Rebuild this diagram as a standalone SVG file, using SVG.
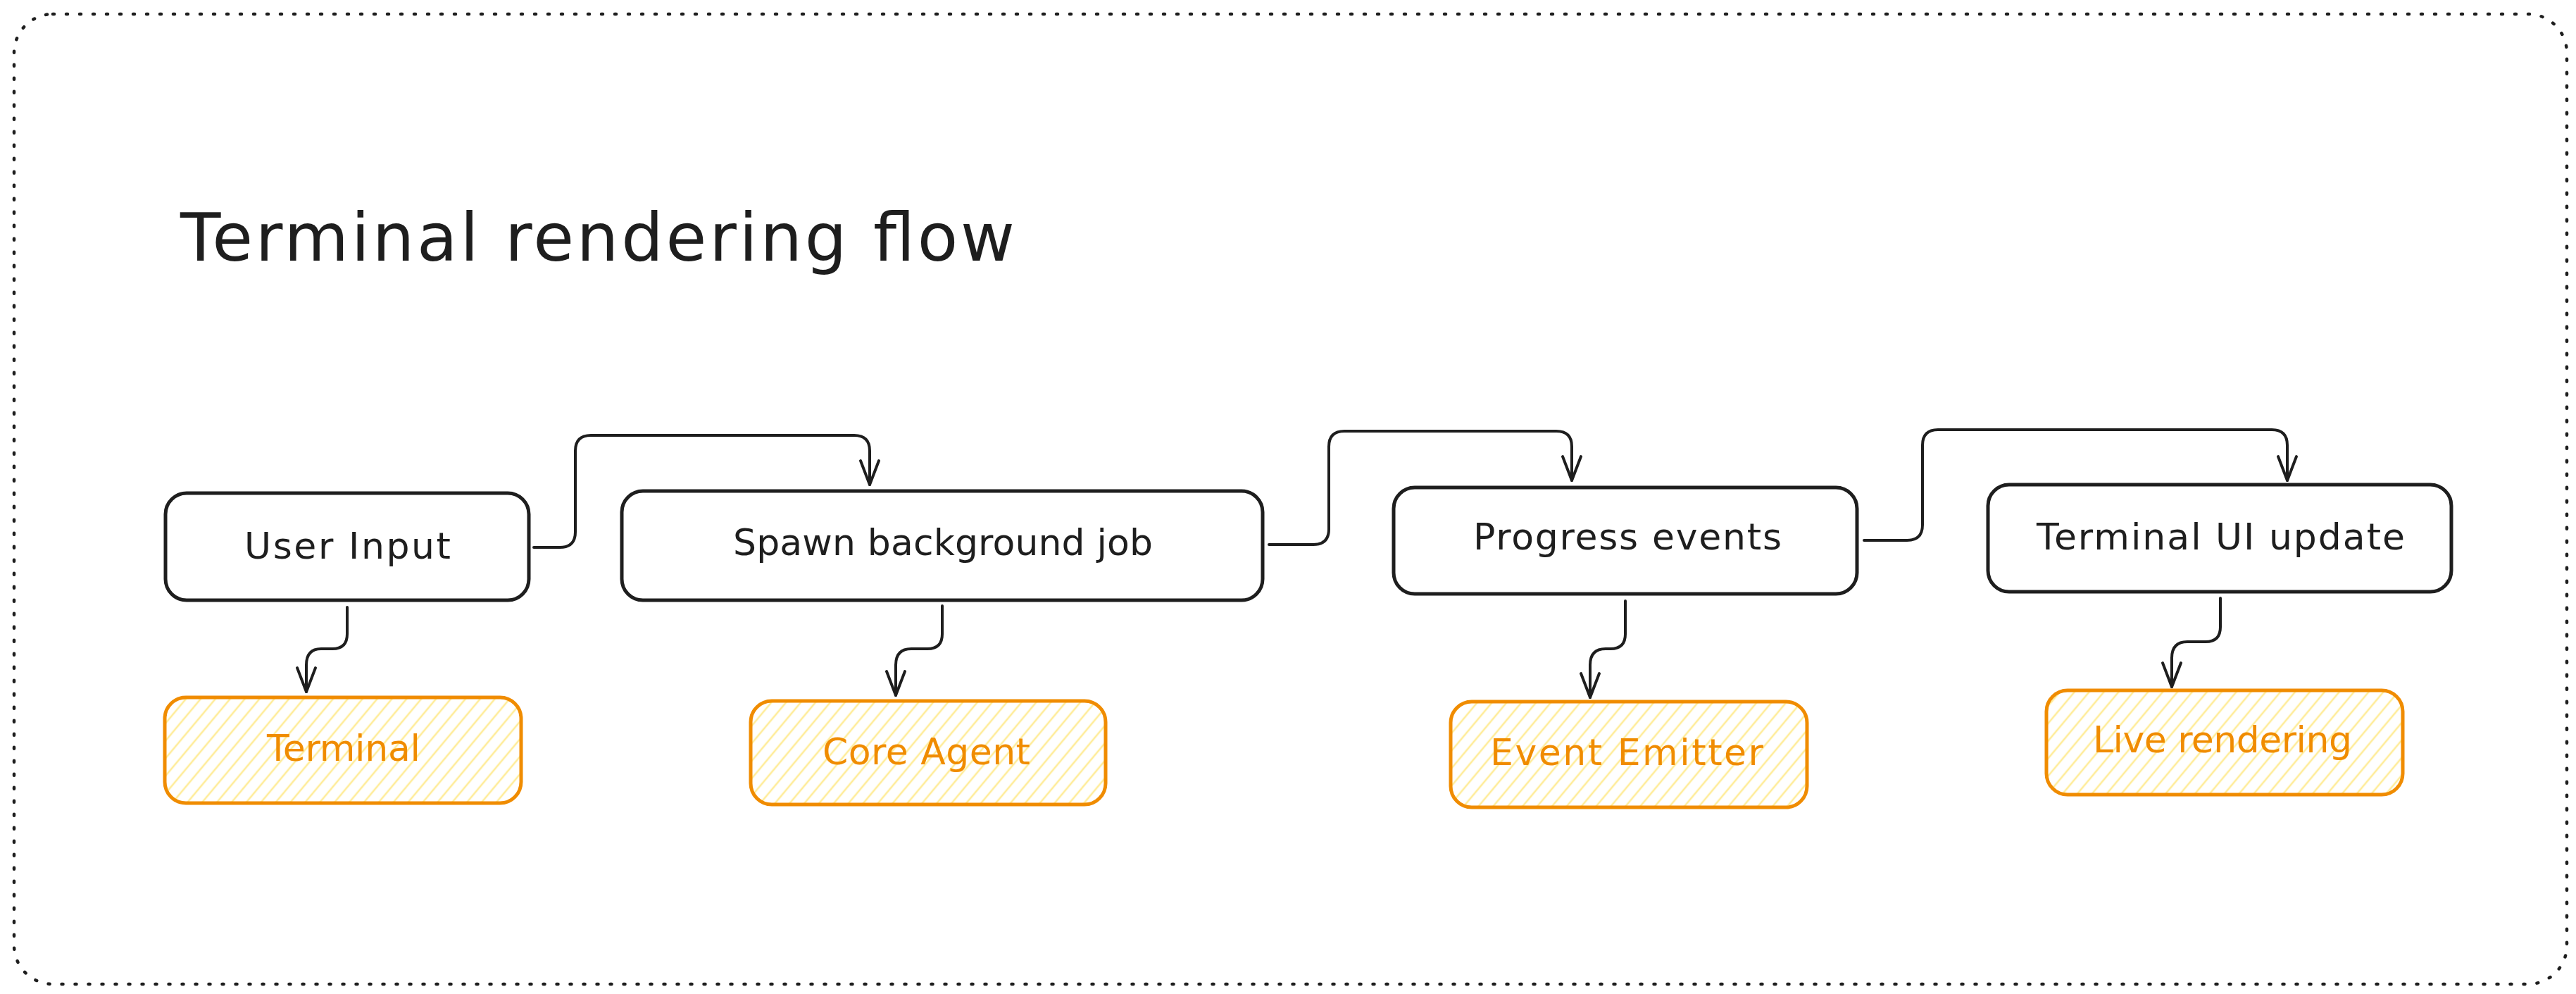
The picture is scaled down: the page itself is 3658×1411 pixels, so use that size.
<svg xmlns="http://www.w3.org/2000/svg" width="3658" height="1411" viewBox="0 0 3658 1411">
  <style>
    .box { fill: #ffffff; stroke: #1e1e1e; stroke-width: 5; }
    .obox { fill: url(#hatch); stroke: #f08c00; stroke-width: 5; }
    .lbl { font-family: "DejaVu Sans", "Liberation Sans", sans-serif; font-size: 52px; fill: #1e1e1e; }
    .olbl { font-family: "DejaVu Sans", "Liberation Sans", sans-serif; font-size: 52px; fill: #f08c00; }
    .title { font-family: "DejaVu Sans", "Liberation Sans", sans-serif; font-size: 94px; fill: #1e1e1e; }
    .conn { fill: none; stroke: #1e1e1e; stroke-width: 4; stroke-linecap: round; stroke-linejoin: round; }
    .frame { fill: none; stroke: #1e1e1e; stroke-width: 4.5; stroke-dasharray: 2 17; stroke-linecap: round; }
  </style>
  <defs>
    <pattern id="hatch" patternUnits="userSpaceOnUse" width="16" height="16" patternTransform="rotate(40)">
      <line x1="8" y1="0" x2="8" y2="16" stroke="#ffec99" stroke-width="2.6"/>
    </pattern>
    <marker id="arr" markerUnits="userSpaceOnUse" markerWidth="44" markerHeight="44" refX="0" refY="0" viewBox="-40 -22 44 44" orient="auto" overflow="visible">
      <path d="M -34 -13 L 0 0 L -34 13" fill="none" stroke="#1e1e1e" stroke-width="4" stroke-linecap="round" stroke-linejoin="round"/>
    </marker>
  </defs>

  <rect class="frame" x="20" y="20" width="3625" height="1377" rx="55" ry="55"/>

  <text class="title" x="256" y="370" textLength="1185">Terminal rendering flow</text>

  <g id="connectors">
    <path class="conn" marker-end="url(#arr)" d="M 758 777 L 795 777 Q 817 777 817 755 L 817 640 Q 817 618 839 618 L 1213 618 Q 1235 618 1235 640 L 1235 688"/>
    <path class="conn" marker-end="url(#arr)" d="M 1802 773 L 1865 773 Q 1887 773 1887 751 L 1887 634 Q 1887 612 1909 612 L 2210 612 Q 2232 612 2232 634 L 2232 682"/>
    <path class="conn" marker-end="url(#arr)" d="M 2647 767 L 2708 767 Q 2730 767 2730 745 L 2730 632 Q 2730 610 2752 610 L 3226 610 Q 3248 610 3248 632 L 3248 682"/>
    <path class="conn" marker-end="url(#arr)" d="M 493 862 L 493 900 Q 493 921 472 921 L 456 921 Q 435 921 435 944 L 435 982"/>
    <path class="conn" marker-end="url(#arr)" d="M 1338 860 L 1338 900 Q 1338 921 1317 921 L 1294 921 Q 1272 921 1272 944 L 1272 987"/>
    <path class="conn" marker-end="url(#arr)" d="M 2308 853 L 2308 900 Q 2308 921 2287 921 L 2280 921 Q 2258 921 2258 944 L 2258 990"/>
    <path class="conn" marker-end="url(#arr)" d="M 3153 849 L 3153 890 Q 3153 911 3132 911 L 3106 911 Q 3084 911 3084 934 L 3084 975"/>
  </g>

  <g id="user-input">
    <rect class="box" x="235" y="700" width="516" height="152" rx="30"/>
    <text class="lbl" x="347" y="793" textLength="293">User Input</text>
  </g>
  <g id="spawn-background-job">
    <rect class="box" x="883" y="697" width="910" height="155" rx="30"/>
    <text class="lbl" x="1041" y="788" textLength="596">Spawn background job</text>
  </g>
  <g id="progress-events">
    <rect class="box" x="1979" y="692" width="658" height="151" rx="30"/>
    <text class="lbl" x="2092" y="780" textLength="438">Progress events</text>
  </g>
  <g id="terminal-ui-update">
    <rect class="box" x="2823" y="688" width="658" height="152" rx="30"/>
    <text class="lbl" x="2892" y="780" textLength="523">Terminal UI update</text>
  </g>

  <g id="terminal">
    <rect class="obox" x="234" y="990" width="506" height="150" rx="30"/>
    <text class="olbl" x="379" y="1080" textLength="218">Terminal</text>
  </g>
  <g id="core-agent">
    <rect class="obox" x="1066" y="995" width="504" height="147" rx="30"/>
    <text class="olbl" x="1168" y="1085" textLength="295">Core Agent</text>
  </g>
  <g id="event-emitter">
    <rect class="obox" x="2060" y="996" width="506" height="150" rx="30"/>
    <text class="olbl" x="2116" y="1086" textLength="388">Event Emitter</text>
  </g>
  <g id="live-rendering">
    <rect class="obox" x="2906" y="980" width="506" height="148" rx="30"/>
    <text class="olbl" x="2972" y="1068" textLength="368">Live rendering</text>
  </g>
</svg>
